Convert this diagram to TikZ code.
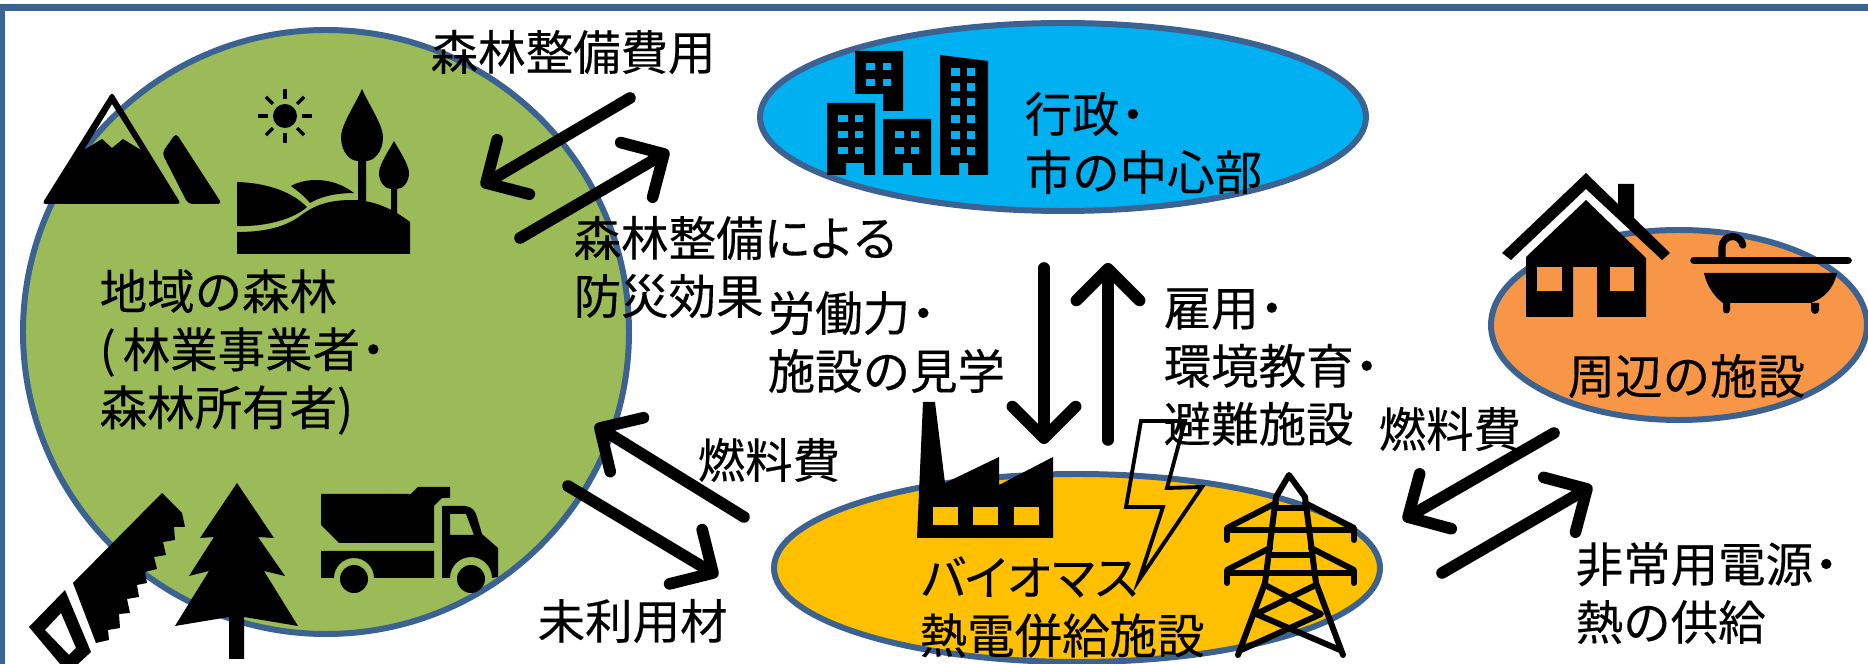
\documentclass[tikz,border=0pt]{standalone}
\usepackage{fontspec}
\usepackage{xcolor}
\usepackage{tikz}
\usetikzlibrary{arrows.meta}
\newfontfamily\cjk[FakeBold=0.25]{Noto Sans CJK JP}
\definecolor{edgeblue}{RGB}{60,98,145}
\definecolor{forestgreen}{RGB}{155,187,89}
\definecolor{cityblue}{RGB}{0,176,240}
\definecolor{plantyellow}{RGB}{255,192,0}
\definecolor{townorange}{RGB}{247,150,70}
\newcommand{\jdot}{\kern-3pt ・}
\tikzset{%
    region/.style={draw=edgeblue,line width=1.7pt},
    jptext/.style={anchor=west,align=left,inner sep=0pt,text=black,
        font=\cjk\fontsize{13.5pt}{16.5pt}\selectfont},
    flow/.style={line width=3.3pt,line cap=round,line join=round,
        -{Straight Barb[length=9pt,width=18pt,round]}},
    wire/.style={line width=1.7pt,line join=round,line cap=round}
}
\begin{document}
\begin{tikzpicture}[x=0.01cm,y=-0.01cm]
\useasboundingbox (0,0) rectangle (1868,664);
\fill[white] (0,0) rectangle (1868,664);
\draw[edgeblue,line width=1.8pt] (2,664) -- (2,7.5) -- (1868,7.5);

\filldraw[region,fill=forestgreen] (326,332) ellipse (303 and 302);
\filldraw[region,fill=cityblue] (1063,117) ellipse (303 and 94);
\filldraw[region,fill=plantyellow] (1077,568) ellipse (303 and 94);
\filldraw[region,fill=townorange] (1679,325) ellipse (188 and 95);

% mountains
\fill[even odd rule] [rounded corners=1pt] (112,92) -- (181,204) -- (42,204) -- cycle
    [sharp corners] (112,104) -- (84,150) -- (102,139) -- (112,148) -- (123,139) -- (141,150) -- cycle;
\fill[rounded corners=1.2pt] (176,133) -- (222,204) -- (188,204) -- (162,153) -- cycle;

% sun, hills, trees
\fill (285,116) circle (12);
\foreach \a in {0,45,...,315}
    \draw[line width=1pt] (285,116) ++(\a:17) -- ++(\a:10);
\fill (362,89) .. controls (355,105) and (341,125) .. (341,137)
    .. controls (341,152) and (350,161) .. (358,161) -- (358,205) -- (366,205) -- (366,161)
    .. controls (374,161) and (383,152) .. (383,137)
    .. controls (383,125) and (369,105) .. (362,89) -- cycle;
\fill (394,141) .. controls (389,150) and (379,165) .. (379,173)
    .. controls (379,182) and (385,189) .. (391,189) -- (391,215) -- (397,215) -- (397,189)
    .. controls (403,189) and (409,182) .. (409,173)
    .. controls (409,165) and (399,150) .. (394,141) -- cycle;
\fill (237,182) .. controls (268,183) and (292,192) .. (307,207)
    .. controls (295,218) and (268,227) .. (237,226) -- cycle;
\fill (291,186) .. controls (305,178) and (332,176) .. (354,193)
    .. controls (335,193) and (320,197) .. (310,203) .. controls (305,197) and (298,191) .. (291,186) -- cycle;
\fill (237,232) .. controls (262,232) and (284,228) .. (300,216)
    .. controls (316,204) and (330,200) .. (353,200)
    .. controls (372,200) and (392,208) .. (410,222) -- (410,254) -- (237,254) -- cycle;

% saw
\fill (162,493) -- (182,513) -- (185,527) -- (174,527) -- (175,540) -- (163,542) -- (166,555)
    -- (154,557) -- (157,569) -- (145,572) -- (147,583) -- (137,585) -- (139,597) -- (127,599)
    -- (130,613) -- (119,614) -- (120,628) -- (108,630) -- (109,640) -- (96,643) -- (73,583) -- cycle;
\fill[even odd rule] (65,590) -- (29,627) -- (60,664) -- (78,664) -- (91,652) -- cycle
    (61,613) -- (45,630) -- (69,655) -- (76,648) -- cycle;

% spruce
\fill (237,483) -- (274,538) -- (258,537) -- (285,576) -- (264,571) -- (298,626) -- (244,617)
    -- (244,659) -- (229,659) -- (229,617) -- (175,626) -- (209,571) -- (189,576) -- (214,537)
    -- (200,538) -- cycle;

% truck
\fill (321,494) -- (411,494) -- (418,487) -- (450,487) -- (450,498) -- (442,498) -- (434,506)
    -- (434,543) -- (339,543) -- (321,525) -- cycle;
\fill (321,551) -- (434,551) -- (434,578) -- (374,578) arc (0:-180:20) -- (321,578) -- cycle;
\fill[even odd rule] (442,506) -- (465,506) .. controls (472,506) and (476,512) .. (477,517)
    -- (482,534) -- (498,548) -- (498,577) -- (492,578) arc (0:-180:21) -- (442,578) -- cycle
    (450,514) -- (466,514) -- (474,535) -- (450,535) -- cycle;
\fill (354,579) circle (14);
\fill (471,579) circle (14);

% buildings
\fill (827,103) -- (875,103) -- (875,175) -- (864,175) -- (864,163) -- (846,163) -- (846,175) -- (827,175) -- cycle;
\fill (855,51) -- (903,51) -- (903,111) -- (883,111) -- (883,94) -- (855,94) -- cycle;
\fill (883,119) -- (931,119) -- (931,175) -- (912,175) -- (912,163) -- (903,163) -- (903,175) -- (883,175) -- cycle;
\fill (940,55) -- (988,61) -- (988,175) -- (968,175) -- (968,163) -- (959,163) -- (959,175) -- (940,175) -- cycle;
\foreach \y in {115,131,147} {
    \fill[cityblue] (838,\y) rectangle (848,\y+7);
    \fill[cityblue] (855,\y) rectangle (863,\y+7);
}
\foreach \y in {131,147} {
    \fill[cityblue] (895,\y) rectangle (904,\y+7);
    \fill[cityblue] (911,\y) rectangle (919,\y+7);
}
\foreach \y in {63,79} {
    \fill[cityblue] (866,\y) rectangle (875,\y+7);
    \fill[cityblue] (883,\y) rectangle (891,\y+7);
}
\foreach \y in {68,83,98,115,131,147} {
    \fill[cityblue] (951,\y) rectangle (960,\y+8);
    \fill[cityblue] (967,\y) rectangle (975,\y+8);
}

% factory
\fill (923,402) -- (935,402) -- (945,483) -- (999,457) -- (999,485) -- (1053,457) -- (1053,538) -- (917,538) -- cycle;
\foreach \x in {933,973,1014}
    \fill[plantyellow] (\x,507) rectangle (\x+25,525);

% lightning
\draw[line width=1.1pt,miter limit=10] (1141,421) -- (1185,421) -- (1167,488) -- (1202,487) -- (1139,580)
    -- (1163,507) -- (1126,507) -- cycle;

% pylon
\draw[wire] (1276,497) -- (1289,475) -- (1305,497);
\draw[wire] (1276,497) -- (1265,583) -- (1238,655);
\draw[wire] (1305,497) -- (1316,583) -- (1343,655);
\draw[wire] (1227,540) -- (1227,528) -- (1276,503);
\draw[wire] (1354,540) -- (1354,528) -- (1305,503);
\draw[wire] (1227,530) -- (1354,530);
\draw[wire] (1276,508) -- (1305,508);
\draw[wire] (1227,583) -- (1227,570) -- (1270,548);
\draw[wire] (1354,583) -- (1354,570) -- (1311,548);
\draw[wire] (1227,573) -- (1354,573);
\draw[wire] (1270,555) -- (1311,555);
\draw[wire] (1265,585) -- (1321,614) -- (1241,650);
\draw[wire] (1316,585) -- (1256,614) -- (1340,650);

% house
\fill (1586,173) -- (1618,204) -- (1618,184) -- (1634,184) -- (1634,218) -- (1670,253) -- (1662,260)
    -- (1586,189) -- (1511,260) -- (1502,253) -- cycle;
\fill (1586,200) -- (1646,258) -- (1646,317) -- (1597,317) -- (1597,267) -- (1573,267) -- (1573,317)
    -- (1526,317) -- (1526,257) -- cycle;
\fill[townorange] (1537,267) rectangle (1562,291);
\fill[townorange] (1610,267) rectangle (1634,291);

% bath
\draw[line width=2.2pt,line cap=round] (1694,260.5) -- (1848,260.5);
\fill (1704,273) -- (1837,273) .. controls (1834,288) and (1824,299) .. (1810,303) -- (1819,303)
    -- (1819,310) arc (0:180:4) -- (1811,303) -- (1730,303) -- (1730,310) arc (0:180:3.5) -- (1723,303)
    .. controls (1717,299) and (1707,288) .. (1704,273) -- cycle;
\draw[line width=2pt,line cap=round] (1722,257) -- (1722,247) arc (-180:-10:10.5);

% arrows
\coordinate (costA) at (630,98);
\coordinate (costB) at (481,186);
\coordinate (safeA) at (520,238);
\coordinate (safeB) at (669,151);
\coordinate (fuelA) at (744,517);
\coordinate (fuelB) at (595,425);
\coordinate (woodA) at (568,486);
\coordinate (woodB) at (718,576);
\coordinate (workA) at (1044,268);
\coordinate (workB) at (1044,444);
\coordinate (jobA) at (1108,440);
\coordinate (jobB) at (1108,263);
\coordinate (heatA) at (1554,433);
\coordinate (heatB) at (1403,520);
\coordinate (powerA) at (1442,573);
\coordinate (powerB) at (1592,486);
\draw[flow] (costA) -- (costB);
\draw[flow] (safeA) -- (safeB);
\draw[flow] (fuelA) -- (fuelB);
\draw[flow] (woodA) -- (woodB);
\draw[flow] (workA) -- (workB);
\draw[flow] (jobA) -- (jobB);
\draw[flow] (heatA) -- (heatB);
\draw[flow] (powerA) -- (powerB);

\node[jptext] (forestcost) at (430,52) {森林整備費用};
\node[jptext] (safety) at (573,267) {森林整備に\kern-1ptよ\kern-1ptる\\防災効果};
\node[jptext] (forest) at (99,352) {地域の森林\\(\hspace{2pt}林業事業者\jdot\\森林所有者)};
\node[jptext] (fuelleft) at (697,460) {燃料費};
\node[jptext] (wood) at (537,621) {未利用材};
\node[jptext] (city) at (1024,143) {行政\jdot\\市の中心部};
\node[jptext] (labour) at (767,342) {労働力\jdot\\施設の見学};
\node[jptext] (jobs) at (1163,367) {雇用\jdot\\環境教育\jdot\\避難施設};
\node[jptext] (plant) at (919,607) {バ\kern-1.2ptイ\kern-1.2ptオ\kern-1.2ptマ\kern-1.2ptス\\熱電併給施設};
\node[jptext] (fuelright) at (1378,429) {燃料費};
\node[jptext] (town) at (1567,376) {周辺の施設};
\node[jptext] (supply) at (1575,593) {非常用電源\jdot\\熱の供給};
\end{tikzpicture}
\end{document}
